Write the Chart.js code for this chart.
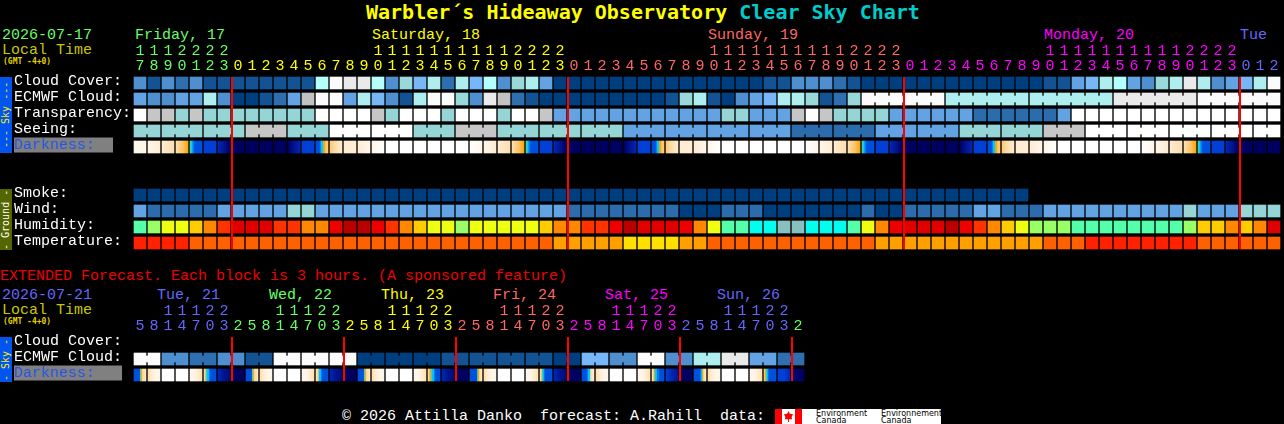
<!DOCTYPE html>
<html>
<head>
<meta charset="utf-8">
<title>Warbler's Hideaway Observatory Clear Sky Chart</title>
<script src="https://cdn.jsdelivr.net/npm/chart.js@4/dist/chart.umd.js"></script>
<style>
  html, body { margin: 0; background: #000; width: 1284px; height: 424px; overflow: hidden; }
  body, .t { font: 15px/15px "Liberation Mono", monospace; white-space: pre; }
  .t { position: absolute; }
  canvas { position: absolute; left: 0; }
  #chartMain { top: 0; }
  #chartExt { top: 280px; }
  .small { font: bold 8px/8px "DejaVu Sans Mono", monospace; color: #e0d000; }
  .strip { position: absolute; left: 0; width: 12px; writing-mode: vertical-rl; transform: rotate(180deg); text-align: center; font: 10px/12px "DejaVu Sans Mono", monospace; }
  #logo { position: absolute; left: 775px; top: 409px; width: 166px; height: 15px; background: #fff; color: #000; font: 8px/7px "DejaVu Sans", sans-serif; }
  #logo i { position: absolute; top: 0; height: 15px; background: #f00; }
  #logo b { position: absolute; left: 9px; top: 2px; width: 9px; height: 11px; background: #f00; clip-path: polygon(50% 0, 65% 25%, 100% 30%, 85% 55%, 90% 75%, 55% 75%, 55% 100%, 45% 100%, 45% 75%, 10% 75%, 15% 55%, 0 30%, 35% 25%); }
  #logo span { position: absolute; top: 1px; font-weight: normal; }
</style>
</head>
<body>
<div class="t" style="left:366px;top:0;font:bold 20px/24px 'DejaVu Sans Mono',monospace;color:#ffff00">Warbler´s Hideaway Observatory <span style="color:#00cccc">Clear Sky Chart</span></div>

<div class="t" style="left:2px;top:28px;color:#66ff66">2026-07-17</div>
<div class="t" style="left:2px;top:43px;color:#c8c800">Local Time</div>
<div class="t small" style="left:3px;top:58px">(GMT -4+0)</div>
<div class="t" style="left:135px;top:28px;color:#66ff66">Friday, 17</div>
<div class="t" style="left:372px;top:28px;color:#ffff00">Saturday, 18</div>
<div class="t" style="left:708px;top:28px;color:#ff6666">Sunday, 19</div>
<div class="t" style="left:1044px;top:28px;color:#ff00ff">Monday, 20</div>
<div class="t" style="left:1240px;top:28px;color:#6666ff">Tue</div>

<div class="strip" style="top:77px;height:76px;background:#0055ee;color:#ffee00">--- Sky ---</div>
<div class="strip" style="top:189px;height:61px;background:#556600;color:#fff">- Ground -</div>

<div class="t" style="left:0;top:269px;color:#ee0000">EXTENDED Forecast. Each block is 3 hours. (A sponsored feature)</div>
<div class="t" style="left:2px;top:288px;color:#6666ff">2026-07-21</div>
<div class="t" style="left:2px;top:303px;color:#c8c800">Local Time</div>
<div class="t small" style="left:3px;top:318px">(GMT -4+0)</div>
<div class="t" style="left:157px;top:288px;color:#6666ff">Tue, 21</div>
<div class="t" style="left:269px;top:288px;color:#66ff66">Wed, 22</div>
<div class="t" style="left:381px;top:288px;color:#ffff00">Thu, 23</div>
<div class="t" style="left:493px;top:288px;color:#ff6666">Fri, 24</div>
<div class="t" style="left:605px;top:288px;color:#ff00ff">Sat, 25</div>
<div class="t" style="left:717px;top:288px;color:#6666ff">Sun, 26</div>

<div class="strip" style="top:337px;height:45px;background:#0055ee;color:#ffee00">- Sky -</div>

<canvas id="chartMain" width="1284" height="251"></canvas>
<canvas id="chartExt" width="1284" height="103"></canvas>

<div class="t" style="left:342px;top:409px;color:#fff">© 2026 Attilla Danko  forecast: A.Rahill  data:</div>
<div id="logo">
  <i style="left:0;width:7px"></i><i style="left:20px;width:7px"></i><b></b>
  <span style="left:41px">Environment<br>Canada</span>
  <span style="left:106px">Environnement<br>Canada</span>
</div>

<script>
// hour of each block, read left to right
const hoursMain = [17,18,19,20,21,22,23,
  0,1,2,3,4,5,6,7,8,9,10,11,12,13,14,15,16,17,18,19,20,21,22,23,
  0,1,2,3,4,5,6,7,8,9,10,11,12,13,14,15,16,17,18,19,20,21,22,23,
  0,1,2,3,4,5,6,7,8,9,10,11,12,13,14,15,16,17,18,19,20,21,22,23,
  0,1,2];
const hoursExt = [5,8,11,14,17,20,23, 2,5,8,11,14,17,20,23, 2,5,8,11,14,17,20,23,
  2,5,8,11,14,17,20,23, 2,5,8,11,14,17,20,23, 2,5,8,11,14,17,20,23, 2];
const daySpansMain = [7,24,24,24,3];
const dayColorsMain = ['#66ff66','#ffff00','#ff6666','#ff00ff','#6666ff'];
const daySpansExt = [7,8,8,8,8,8,1];
const dayColorsExt = ['#6666ff','#66ff66','#ffff00','#ff6666','#ff00ff','#6666ff','#66ff66'];
const midnightsMain = [7,31,55,79];
const midnightsExt = [7,15,23,31,39,47];

const rowsMain = ['Cloud Cover:','ECMWF Cloud:','Transparency:','Seeing:','Darkness:  ',' ','  ','Smoke:','Wind:','Humidity:','Temperature:'];
const rowsExt = ['Cloud Cover:','ECMWF Cloud:','Darkness:   '];

// percent cloud
const cloudCover = [30,10,30,20,30,10,10,10,10,10,10,10,10,75,100,90,90,75,30,60,50,
  70,20,70,50,75,30,60,70,40,0,
  0,0,0,0,0,0,0,0,0,0,0,0,0,0,10,10,30,30,30,20,10,
  0,0,0,0,0,0,0,0,0,0,0,0,0,10,10,40,50,70,75,40,30,60,70,90,70,30,40,50,70,100];
const ecmwfCloud = [40,30,30,40,40,70,30,0,0,10,20,40,80,100,100,40,70,50,30,10,70,
  100,100,60,30,90,80,20,10,0,0,
  0,0,0,0,0,0,0,10,60,70,10,0,30,40,50,70,70,60,10,20,60,
  100,100,100,100,100,100,70,70,70,70,70,70,70,70,70,70,70,70,90,90,90,90,90,90,100,100,100,100,100,100];
const ecmwfSpans = [1,1,1,1,1,1,1,1,1,1,1,1,1,1,1,1,1,1,1,1,1,1,1,1,1,1,1,1,1,1,1,1,1,1,1,1,1,1,1,1,1,1,1,1,1,1,1,1,1,1,1,1,6,6,6,6,6];
const ecmwfExt = [100,100,30,30,20,20,30,30,10,10,100,100,100,100,100,100,0,0,0,0,0,0,10,10,
  10,10,10,10,10,10,0,0,50,50,30,30,100,100,30,30,70,70,90,90,40,40,20,20];
const ecmwfExtSpans = [2,2,2,2,2,2,2,2,2,2,2,2,2,2,2,2,2,2,2,2,2,2,2,2];

// sky rating: 0 too cloudy ... 5 best
const transparency = [0,1,1,2,1,2,2,2,2,2,2,2,2,0,0,0,0,1,2,0,0,
  0,2,0,0,0,2,0,0,1,3,3,3,3,3,3,3,3,3,3,3,3,2,2,3,3,3,1,0,1,2,2,
  2,2,3,3,3,3,3,3,4,4,4,4,4,4,3,0,0,0,0,0,0,0,0,0,0,0,0,0,0,0];
const seeing = [2,2,2,2,2,2,2,2,1,1,1,2,2,2,0,0,0,0,0,0,2,2,2,
  1,1,1,2,2,2,2,2,2,2,2,2,3,3,3,3,3,3,3,3,3,3,3,3,4,4,4,4,4,4,
  3,3,3,3,3,3,2,2,2,2,2,2,1,1,1,0,0,0,0,0,0,0,0,0,0,0,0,0,0];
const seeingSpans = [2,3,3,3,3,3,3,3,3,3,3,3,3,3,3,3,3,3,3,3,3,3,3,3,3,3,3,2];
const smoke = [5,5,5,5,5,5,5,5,5,5,5,5,5,5,5,5,5,5,5,5,5,5,5,5,5,5,5,5,5,5,5,5,
  5,5,5,5,5,5,5,5,5,5,5,5,5,5,5,5,5,5,5,5,5,5,5,5,5,5,5,5,5,5,5,5];
const wind = [3,4,4,4,4,4,3,3,3,3,3,2,2,3,3,3,3,3,3,3,3,3,3,3,3,3,3,3,3,3,3,
  4,4,4,4,4,4,4,4,5,5,5,4,4,4,5,5,5,5,5,5,5,
  4,5,5,4,4,4,4,4,3,3,4,4,4,3,3,3,3,3,3,3,3,3,3,2,3,3,3,2,2,2];
const humidity = [55,60,65,65,70,75,80,90,90,90,80,80,75,75,85,95,95,85,80,75,70,
  65,65,60,65,65,65,65,65,70,75,75,80,80,85,95,90,90,90,85,75,65,55,55,50,50,45,45,50,50,50,55,
  65,75,85,90,90,90,95,85,80,75,70,65,60,60,60,55,55,55,55,55,55,55,55,60,70,70,75,70,75,90];
const temperature = [27,27,27,27,24,24,24,24,24,24,24,24,24,24,24,24,24,24,24,24,24,
  24,24,24,24,24,24,24,24,24,21,21,21,21,21,18,18,18,18,21,21,24,24,24,24,24,24,24,24,24,24,24,
  24,21,21,21,21,21,21,21,21,21,21,21,21,24,24,24,27,27,27,27,27,27,27,27,24,24,24,24,24,24];

// darkness of each block, left to right inside it (index into darknessRamp)
const darkness = [[1,1],[1,2],[2,3],[3,4,5],[6,7,8,9,9,9,9,9],[10],[11,12,14],
  [14],[14],[14],[14],[14,12,11],[10],[9,9,9,9,8,7,7,5,5,4,4,4],[4,3,2],[2],[2,1],[1,0],[0],[0],[0],[0],[0],[0],
  [0,1],[1,2],[2,3],[3,4,5],[6,7,8,9,9,9,9,9],[10],[11,12,14],
  [14],[14],[14],[14],[14,12,11],[10],[9,9,9,9,8,7,7,5,5,4,4,4],[4,3,2],[2],[2,1],[1,0],[0],[0],[0],[0],[0],[0],
  [0,1],[1,2],[2,3],[3,4,5],[6,7,8,9,9,9,9,9],[10],[11,12,14],
  [14],[14],[14],[14],[14,12,11],[10],[9,9,9,9,8,7,7,5,5,4,4,4],[4,3,2],[2],[2,1],[1,0],[0],[0],[0],[0],[0],[0],
  [0,1],[1,2],[2,3],[3,4,5],[6,7,8,9,9,9,9,9],[10],[11,12,14],
  [14],[14],[14]];
const darknessExt = [[9,9,9,9,9,9,6,5,3,3,3,2],[3,2,1,1],[0],[0],[1,1,2,3],[3,4,6,7,7,8,9,9,9,9,9,9],[11,12,13],[14],
  [9,9,9,9,9,9,6,5,3,3,3,2],[3,2,1,1],[0],[0],[1,1,2,3],[3,3,4,7,7,8,9,9,9,9,9,9],[11,12,13],[14],
  [9,9,9,9,9,9,6,5,3,3,3,2],[3,2,1,1],[0],[0],[1,1,2,3],[3,4,5,6,7,7,8,9,9,9,9,9],[11,12,13],[14],
  [9,9,9,9,9,9,9,6,5,3,3,2],[3,2,1,1],[0],[0],[1,1,2,3],[3,4,6,7,8,9,9,9,9,9,9,9],[11,12,13],[14],
  [9,9,9,9,9,8,7,7,3,3,2,2],[3,2,1,1],[0],[0],[1,1,2,3],[3,3,5,7,7,8,8,9,9,9,9,9],[10,11,12],[14],
  [9,9,9,9,9,9,8,7,5,3,3,2],[3,2,1,1],[0],[0],[1,1,2,3],[3,5,6,7,8,9,9,9,9,9,9,9],[10,10,11],[13,14]];

const cloudColors = {0:'#003f7f',10:'#135393',20:'#2f6faf',30:'#4f8fcf',40:'#63a3e3',50:'#77b7f7',60:'#9ad9d9',70:'#aeeeee',75:'#b4fefe',80:'#c2c2c2',90:'#eaeaea',100:'#fbfbfb'};
const skyColors = ['#ffffff','#c6c6c6','#95d5d5','#63a3e3','#2c6cac','#003f7f'];
const humidityColors = {45:'#88c0c0',50:'#00ffee',55:'#55ffaa',60:'#99ff66',65:'#eeff11',70:'#ffcc00',75:'#ff8800',80:'#ff3300',85:'#ee0000',90:'#e00000',95:'#b80000'};
const temperatureColors = {18:'#ffe000',21:'#ffa000',24:'#ff6000',27:'#ff2200'};
const darknessRamp = ['#ffffff','#fff6ea','#ffecd2','#ffdfae','#ffc878','#ffa800','#60d0a0','#00c8f8','#0078f0','#0050e0','#0040d8','#0028b0','#001490','#000c70','#000060'];

const MONO = '"Liberation Mono", monospace';
const GAP = 1 / 14;   // a block is 12px of its 14px column

function spanColors(spans, colors) {
  return spans.flatMap((n, k) => Array(n).fill(colors[k]));
}

function hourLabel(h) {
  return [h < 10 ? '' : String(h)[0], String(h % 10)];
}

function cellBars(label, values, colorOf) {
  return {
    data: values.map((v, i) => ({ x: [i + GAP, i + 1 - GAP], y: label })),
    backgroundColor: values.map(colorOf),
    barThickness: 12
  };
}

// narrow bits that tie the blocks of one forecast step together
function bridgeBars(label, values, spans, colorOf) {
  const data = [], colors = [];
  let start = 0;
  spans.forEach(n => {
    for (let i = start; i < start + n - 1; i++) {
      data.push({ x: [i + 1 - GAP, i + 1 + GAP], y: label });
      colors.push(colorOf(values[i]));
    }
    start += n;
  });
  return { data: data, backgroundColor: colors, barThickness: 6 };
}

function darknessBars(label, samples) {
  return {
    data: samples.map((s, i) => ({ x: [i + GAP, i + 1 - GAP], y: label })),
    barThickness: 12,
    backgroundColor: ctx => {
      const s = samples[ctx.dataIndex];
      if (!s || !ctx.chart.chartArea) return '#000';
      if (s.length === 1) return darknessRamp[s[0]];
      const xs = ctx.chart.scales.x;
      const x0 = xs.getPixelForValue(ctx.dataIndex + GAP);
      const x1 = xs.getPixelForValue(ctx.dataIndex + 1 - GAP);
      if (!isFinite(x0) || !isFinite(x1)) return darknessRamp[s[0]];
      const g = ctx.chart.ctx.createLinearGradient(x0, 0, x1, 0);
      s.forEach((v, k) => g.addColorStop(k / (s.length - 1), darknessRamp[v]));
      return g;
    }
  };
}

function midnightLines(midnights, rowCount) {
  return midnights.map(m => ({
    type: 'line',
    indexAxis: 'x',
    yAxisID: 'yRows',
    order: -1,
    data: [{ x: m + GAP, y: 0.125 }, { x: m + GAP, y: rowCount - 0.125 }],
    borderColor: '#ff0000',
    borderWidth: 2,
    pointRadius: 0
  }));
}

function makeChart(id, rows, hours, hourColors, midnights, datasets, top, right) {
  const tickFont = { family: MONO, size: 15, lineHeight: 1 };
  return new Chart(document.getElementById(id), {
    type: 'bar',
    data: { datasets: datasets.concat(midnightLines(midnights, rows.length)) },
    options: {
      indexAxis: 'y',
      responsive: false,
      animation: false,
      layout: { padding: { left: 14, right: right, top: top, bottom: 0 } },
      plugins: { legend: { display: false }, tooltip: { enabled: false } },
      datasets: { bar: { grouped: false, borderWidth: 0 } },
      scales: {
        x: { type: 'linear', display: false, min: 0, max: hours.length },
        xHours: {
          type: 'category',
          axis: 'x',
          position: 'top',
          offset: true,
          labels: hours.map(hourLabel),
          grid: { display: false, drawTicks: false },
          border: { display: false },
          ticks: {
            autoSkip: false,
            maxRotation: 0,
            padding: 1,
            font: tickFont,
            color: ctx => hourColors[ctx.index]
          },
          afterFit: s => { s.height = 45; }
        },
        y: {
          type: 'category',
          labels: rows,
          grid: { display: false },
          border: { display: false },
          ticks: {
            autoSkip: false,
            crossAlign: 'far',
            labelOffset: -2,
            font: tickFont,
            color: ctx => rows[ctx.index].startsWith('Darkness') ? '#2255ee' : '#ffffff',
            showLabelBackdrop: true,
            backdropPadding: 0,
            backdropColor: ctx => rows[ctx.index].startsWith('Darkness') ? '#808080' : 'rgba(0,0,0,0)'
          },
          afterFit: s => { s.width = 119; s.paddingTop = 0; s.paddingBottom = 0; }
        },
        yRows: { type: 'linear', display: false, offset: false, reverse: true, min: 0, max: rows.length }
      }
    }
  });
}

const cloudColor = v => cloudColors[v];
const skyColor = v => skyColors[v];

makeChart('chartMain', rowsMain, hoursMain, spanColors(daySpansMain, dayColorsMain), midnightsMain, [
  cellBars(rowsMain[0], cloudCover, cloudColor),
  cellBars(rowsMain[1], ecmwfCloud, cloudColor),
  bridgeBars(rowsMain[1], ecmwfCloud, ecmwfSpans, cloudColor),
  cellBars(rowsMain[2], transparency, skyColor),
  cellBars(rowsMain[3], seeing, skyColor),
  bridgeBars(rowsMain[3], seeing, seeingSpans, skyColor),
  darknessBars(rowsMain[4], darkness),
  cellBars(rowsMain[7], smoke, skyColor),
  cellBars(rowsMain[8], wind, skyColor),
  cellBars(rowsMain[9], humidity, v => humidityColors[v]),
  cellBars(rowsMain[10], temperature, v => temperatureColors[v])
], 30, 3);

makeChart('chartExt', rowsExt, hoursExt, spanColors(daySpansExt, dayColorsExt), midnightsExt, [
  cellBars(rowsExt[1], ecmwfExt, cloudColor),
  bridgeBars(rowsExt[1], ecmwfExt, ecmwfExtSpans, cloudColor),
  darknessBars(rowsExt[2], darknessExt)
], 10, 479);
</script>
</body>
</html>
